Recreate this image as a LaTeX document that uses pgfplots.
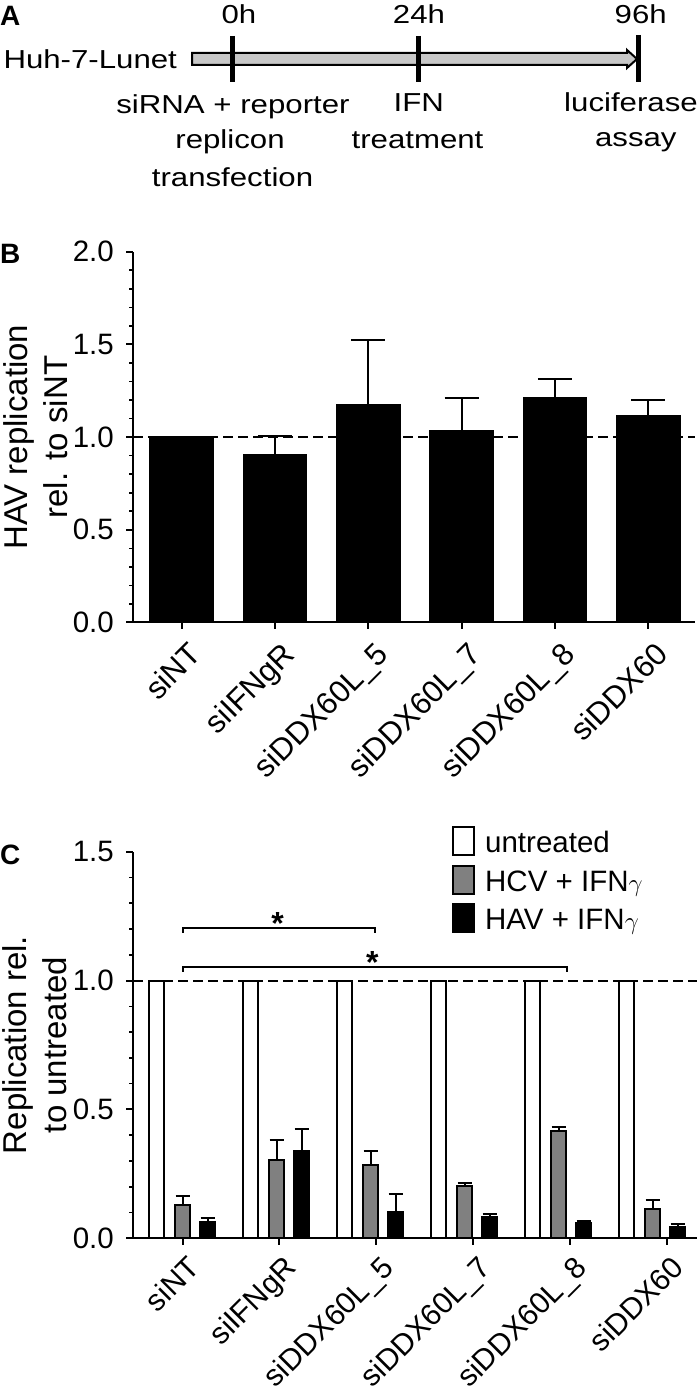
\documentclass[border=0pt]{standalone}
\usepackage{fontspec}
\setmainfont{Liberation Sans}
\newfontfamily\afont{Liberation Sans}[FakeStretch=1.2]
\usepackage{pgfplots}
\pgfplotsset{compat=1.18}
\definecolor{midgray}{RGB}{128,128,128}
\definecolor{arrowgray}{RGB}{200,200,200}
\newcommand{\fs}[1]{\fontsize{#1}{#1}\selectfont}
\pgfplotsset{
  boxlegend/.style={legend image code/.code={\draw[line width=2pt,##1] (0pt,-2.3pt) rectangle (20.7pt,25.7pt);}},
  common/.style={
    scale only axis,
    axis x line*=bottom, axis y line*=left,
    axis line style={line width=2pt,-},
    tick align=outside,
    major tick length=6.5pt, minor tick length=3.5pt,
    tick style={line width=2pt,black},
    minor tick style={line width=1.6pt,black},
    /pgf/number format/assume math mode=true,
    /pgf/number format/fixed,
    /pgf/number format/fixed zerofill,
    /pgf/number format/precision=1,
    yticklabel style={inner sep=0pt, xshift=-12.5pt, font=\fs{29.5}},
    xticklabel style={rotate=45, anchor=north east, inner sep=2pt, xshift=-2pt, yshift=-10pt, font=\fs{31}},
    xticklabels={siNT,siIFNgR,siDDX60L\_5,siDDX60L\_7,siDDX60L\_8,siDDX60},
    minor y tick num=4,
    ymin=0,
  },
}
\begin{document}
\begin{tikzpicture}[x=1pt,y=1pt]
% ---------------- Panel A (timeline) ----------------
\node[anchor=base west, inner sep=0pt, font=\fs{28}\bfseries] at (0,1364) {A};
\draw[line width=2pt, fill=arrowgray] (192,1337) -- (627,1337) -- (627,1340) -- (637,1331) -- (627,1322) -- (627,1325) -- (192,1325) -- cycle;
\draw[line width=4.5pt] (232.3,1354) -- (232.3,1308);
\draw[line width=4.5pt] (418.3,1354) -- (418.3,1308);
\draw[line width=4.5pt] (638.3,1355) -- (638.3,1308);
\begin{scope}[every node/.style={inner sep=0pt, anchor=base, font=\afont\fs{26}}]
\node at (239,1366.7) {0h};
\node at (419,1366.7) {24h};
\node at (640.7,1366.7) {96h};
\node[anchor=base west] at (3.3,1321.7) {Huh-7-Lunet};
\node at (233,1276.7) {siRNA + reporter};
\node at (230,1241.7) {replicon};
\node at (232.5,1203.3) {transfection};
\node at (418.8,1278.3) {IFN};
\node at (417.5,1241.7) {treatment};
\node at (631,1278.3) {luciferase};
\node at (635.8,1243.3) {assay};
\end{scope}
% ---------------- Panel B ----------------
\node[anchor=base west, inner sep=0pt, font=\fs{28}\bfseries] at (0,1126.7) {B};
\begin{axis}[common,
  at={(133pt,767.5pt)}, anchor=south west,
  width=562pt, height=370.8pt,
  xmin=-0.52, xmax=5.5, ymax=2,
  xtick={0,1,2,3,4,5},
  ytick={0,0.5,1,1.5,2},
  ylabel={HAV replication\\rel. to siNT},
  ylabel style={font=\fontsize{33}{40}\selectfont, align=center, at={(axis description cs:-0.174,0.5)}, anchor=center},
]
\addplot[line width=2pt, dash pattern=on 10pt off 5pt, forget plot] coordinates {(-0.52,1) (5.5,1)};
\addplot[ybar, bar width=63pt, fill=black, draw=black, line width=1.5pt,
  error bars/y dir=plus, error bars/y explicit,
  error bars/error bar style={line width=2pt,black,solid},
  error bars/error mark options={rotate=90, mark size=17pt, line width=2pt, black}]
  coordinates {(0,1.0) +- (0,0) (1,0.907) +- (0,0.098) (2,1.175) +- (0,0.346)
               (3,1.034) +- (0,0.177) (4,1.211) +- (0,0.104) (5,1.113) +- (0,0.089)};
\end{axis}
% ---------------- Panel C ----------------
\node[anchor=base west, inner sep=0pt, font=\fs{28}\bfseries] at (0,525) {C};
\begin{axis}[common,
  at={(133pt,151.7pt)}, anchor=south west,
  width=564pt, height=386.6pt,
  xmin=-0.527, xmax=5.473, ymax=1.5,
  xtick={0,1.03,2.06,3.09,4.12,5.15},
  xticklabel style={font=\fs{30}, yshift=3pt},
  ytick={0,0.5,1,1.5},
  clip=false,
  ylabel={Replication rel.\\to untreated},
  ylabel style={font=\fontsize{33}{40}\selectfont, align=center, at={(axis description cs:-0.174,0.5)}, anchor=center},
  legend style={at={(axis description cs:0.5661,1.0673)}, anchor=north west, draw=none, fill=none,
    inner sep=0pt, row sep=8pt, column sep=10pt, font=\fs{29.5},
    nodes={inner sep=0pt, text height=26pt, text depth=4pt},
    cells={anchor=base west}},
]
\addplot[line width=2pt, dash pattern=on 10pt off 5pt, forget plot] coordinates {(-0.527,1) (5.473,1)};
\addplot[ybar, bar width=15.5pt, fill=white, draw=black, line width=2pt, boxlegend]
  coordinates {(-0.277,1) (0.723,1) (1.723,1) (2.723,1) (3.723,1) (4.723,1)};
\addlegendentry{untreated}
\addplot[ybar, bar width=15.5pt, fill=midgray, draw=black, line width=2pt, boxlegend,
  error bars/y dir=plus, error bars/y explicit,
  error bars/error bar style={line width=2pt,black},
  error bars/error mark options={rotate=90, mark size=7pt, line width=2pt, black}]
  coordinates {(0,0.129) +- (0,0.036) (1,0.304) +- (0,0.077) (2,0.284) +- (0,0.056)
               (3,0.203) +- (0,0.010) (4,0.416) +- (0,0.017) (5,0.112) +- (0,0.037)};
\addlegendentry{HCV + IFN$\gamma$}
\addplot[ybar, bar width=15.5pt, fill=black, draw=black, line width=2pt, boxlegend,
  error bars/y dir=plus, error bars/y explicit,
  error bars/error bar style={line width=2pt,black},
  error bars/error mark options={rotate=90, mark size=7pt, line width=2pt, black}]
  coordinates {(0.268,0.062) +- (0,0.016) (1.268,0.339) +- (0,0.085) (2.268,0.103) +- (0,0.069)
               (3.268,0.084) +- (0,0.010) (4.268,0.058) +- (0,0.010) (5.268,0.045) +- (0,0.010)};
\addlegendentry{HAV + IFN$\gamma$}
\draw[line width=2pt] (axis cs:0.002,1.186) |- (axis cs:2.05,1.203) -- (axis cs:2.05,1.186);
\draw[line width=2pt] (axis cs:0.009,1.035) |- (axis cs:4.087,1.054) -- (axis cs:4.087,1.035);
\node[anchor=base, inner sep=0pt, font=\fs{32}\bfseries] at (axis cs:1.01,1.178) {*};
\node[anchor=base, inner sep=0pt, font=\fs{32}\bfseries] at (axis cs:2.02,1.029) {*};
\end{axis}
\pgfresetboundingbox
\useasboundingbox (0,0) rectangle (700,1390);
\end{tikzpicture}
\end{document}
